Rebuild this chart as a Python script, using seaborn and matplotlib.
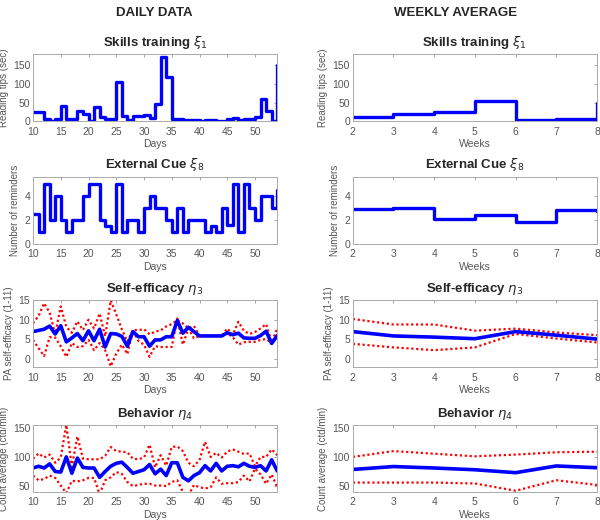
import numpy as np
import pandas as pd
import matplotlib
matplotlib.use("Agg")
import matplotlib.pyplot as plt
import seaborn as sns

# ---- Data ----
days = list(range(10, 55))
weeks = list(range(2, 9))

skills_daily = [25, 25, 5, 0, 5, 42, 5, 5, 26, 18, 1, 39, 12, 5, 5, 104, 14, 4, 13, 13,
                17, 8, 45, 172, 119, 5, 5, 4, 3, 2, 1, 2, 2, 1, 1, 6, 9, 4, 5, 5,
                12, 59, 28, 1, 152]
cue_daily = [2.5, 1, 5, 2, 4, 2, 1, 2, 2, 4, 5, 5, 2, 1.5, 1, 5, 1, 2, 2, 1,
             3, 4, 3, 3, 2, 1, 3, 1, 2, 2, 2, 1, 1.5, 1, 3, 1.6, 5, 1, 5, 3,
             2, 4, 4, 3, 4.5]
se_mean = [7.0, 7.3, 7.6, 8.4, 6.4, 8.5, 4.4, 5.4, 6.5, 4.7, 7.2, 4.7, 7.6, 3.1, 6.5, 6.4,
           5.8, 3.3, 7.0, 5.7, 5.7, 3.3, 4.9, 4.9, 5.7, 5.7, 9.8, 6.6, 8.1, 7.0, 5.9, 5.9,
           5.9, 5.9, 5.9, 6.7, 6.2, 6.6, 5.4, 5.3, 5.3, 6.0, 7.1, 4.0, 6.0]
se_upper = [9.1, 11.0, 14.2, 11.8, 6.4, 13.4, 8.2, 6.7, 9.6, 7.4, 10.0, 7.8, 11.6, 5.8, 14.9, 11.4,
            7.6, 4.5, 7.4, 7.4, 7.6, 6.3, 7.0, 7.3, 8.3, 8.9, 9.9, 9.1, 7.8, 8.4, 5.9, 5.9,
            5.9, 5.9, 5.9, 7.8, 6.2, 9.5, 7.2, 6.4, 6.9, 7.8, 8.9, 4.3, 7.8]
se_lower = [4.9, 2.8, 0.8, 5.6, 5.5, 3.3, 0.6, 4.1, 3.1, 3.3, 4.9, 2.3, 4.1, 2.3, -1.8, 1.4,
            3.7, 1.3, 7.3, 4.6, 3.7, 0.6, 3.3, 3.1, 3.1, 3.1, 10.3, 3.7, 7.8, 5.3, 5.9, 5.9,
            5.9, 5.9, 5.9, 6.6, 5.6, 3.7, 4.3, 4.4, 4.4, 4.9, 5.1, 4.1, 5.6]
beh_mean = [81, 84, 81, 88, 75, 74, 100, 72, 98, 82, 81, 81, 65, 75, 84, 89,
            91, 82, 72, 75, 78, 87, 71, 79, 68, 90, 90, 65, 59, 68, 73, 85,
            76, 89, 76, 84, 85, 83, 89, 84, 82, 85, 76, 95, 76]
beh_upper = [97, 106, 99, 104, 90, 99, 155, 83, 135, 97, 96, 96, 96, 102, 117, 110,
             109, 108, 97, 96, 99, 121, 82, 103, 85, 117, 118, 110, 90, 84, 95, 126,
             100, 107, 99, 109, 113, 109, 105, 106, 84, 100, 100, 113, 103]
beh_lower = [68, 60, 62, 68, 64, 51, 38, 59, 58, 60, 64, 64, 36, 60, 65, 74,
             71, 57, 50, 52, 54, 54, 51, 51, 50, 57, 60, 40, 34, 52, 48, 46,
             48, 65, 54, 55, 55, 57, 68, 58, 80, 70, 54, 70, 48]

skills_weekly = [12.5, 18, 24, 54, 2, 4.5, 48]
cue_weekly = [2.9, 3.0, 2.05, 2.4, 1.8, 2.8, 2.75]
se_w_mean = [7.0, 5.9, 5.6, 5.2, 7.0, 6.1, 5.1]
se_w_upper = [10.2, 8.8, 8.8, 7.25, 7.75, 6.8, 6.1]
se_w_lower = [3.9, 3.0, 2.3, 3.0, 6.4, 5.25, 4.25]
beh_w_mean = [78.5, 83.5, 81, 78, 73, 84.5, 81.5]
beh_w_upper = [100, 110, 105.5, 101, 104, 108, 109]
beh_w_lower = [56, 56, 56, 54.5, 42, 60, 52]

titles = [r"Skills training $\xi_1$", r"External Cue $\xi_8$",
          r"Self-efficacy $\eta_3$", r"Behavior $\eta_4$"]
ylabels = ["Reading tips (sec)", "Number of reminders",
           "PA self-efficacy (1-11)", "Count average (ctd/min)"]
ylims = [(0, 180), (0, 5.6), (-2, 15), (40, 155)]
yticks = [[0, 50, 100, 150], [0, 2, 4], [0, 5, 10, 15], [50, 100, 150]]

# ---- Style ----
sns.set_style("white")
plt.rcParams["font.family"] = ["Liberation Sans", "DejaVu Sans"]
plt.rcParams["mathtext.fontset"] = "dejavusans"

fig = plt.figure(figsize=(6, 5.2), dpi=100)
bottoms = [0.767, 0.531, 0.294, 0.054]
h = 0.129

daily_df = pd.DataFrame({"x": days, "skills": skills_daily, "cue": cue_daily,
                         "se_m": se_mean, "se_u": se_upper, "se_l": se_lower,
                         "b_m": beh_mean, "b_u": beh_upper, "b_l": beh_lower})
weekly_df = pd.DataFrame({"x": weeks, "skills": skills_weekly, "cue": cue_weekly,
                          "se_m": se_w_mean, "se_u": se_w_upper, "se_l": se_w_lower,
                          "b_m": beh_w_mean, "b_u": beh_w_upper, "b_l": beh_w_lower})

blue, red = "#0000ff", "#ff0000"
grey = "#555555"

for col, (df, left, xlab, xlim, xt) in enumerate([
        (daily_df, 0.055, "Days", (10, 54), list(range(10, 55, 5))),
        (weekly_df, 0.588, "Weeks", (2, 8), weeks)]):
    for row in range(4):
        ax = fig.add_axes([left, bottoms[row], 0.407, h])
        if row == 0:
            sns.lineplot(data=df, x="x", y="skills", ax=ax, color=blue, lw=2.4,
                         drawstyle="steps-post", estimator=None, sort=False)
        elif row == 1:
            sns.lineplot(data=df, x="x", y="cue", ax=ax, color=blue, lw=2.4,
                         drawstyle="steps-post", estimator=None, sort=False)
        else:
            key = "se" if row == 2 else "b"
            for s in ("u", "l"):
                sns.lineplot(data=df, x="x", y=f"{key}_{s}", ax=ax, color=red, lw=1.6,
                             linestyle=(0, (1, 1.2)), estimator=None, sort=False)
            sns.lineplot(data=df, x="x", y=f"{key}_m", ax=ax, color=blue, lw=2.6,
                         estimator=None, sort=False)
        ax.set_xlim(*xlim)
        ax.set_ylim(*ylims[row])
        ax.set_xticks(xt)
        ax.set_yticks(yticks[row])
        ax.set_title(titles[row], fontsize=9.5, fontweight="bold", pad=6)
        ax.set_xlabel(xlab, fontsize=7.5, color=grey, labelpad=2)
        ax.set_ylabel(ylabels[row], fontsize=7, color=grey, labelpad=3)
        ax.tick_params(direction="in", length=2.5, width=0.6, colors="#999999",
                       labelcolor=grey, labelsize=7.5, top=True, right=True)
        ax.tick_params(axis="x", pad=4)
        ax.tick_params(axis="y", pad=2)
        for sp in ax.spines.values():
            sp.set_visible(True)
            sp.set_color("#aaaaaa")
            sp.set_linewidth(0.7)

fig.text(0.258, 0.975, "DAILY DATA", ha="center", va="center", fontsize=9.5, fontweight="bold")
fig.text(0.76, 0.975, "WEEKLY AVERAGE", ha="center", va="center", fontsize=9.5, fontweight="bold")

fig.savefig("out.png", dpi=100)
